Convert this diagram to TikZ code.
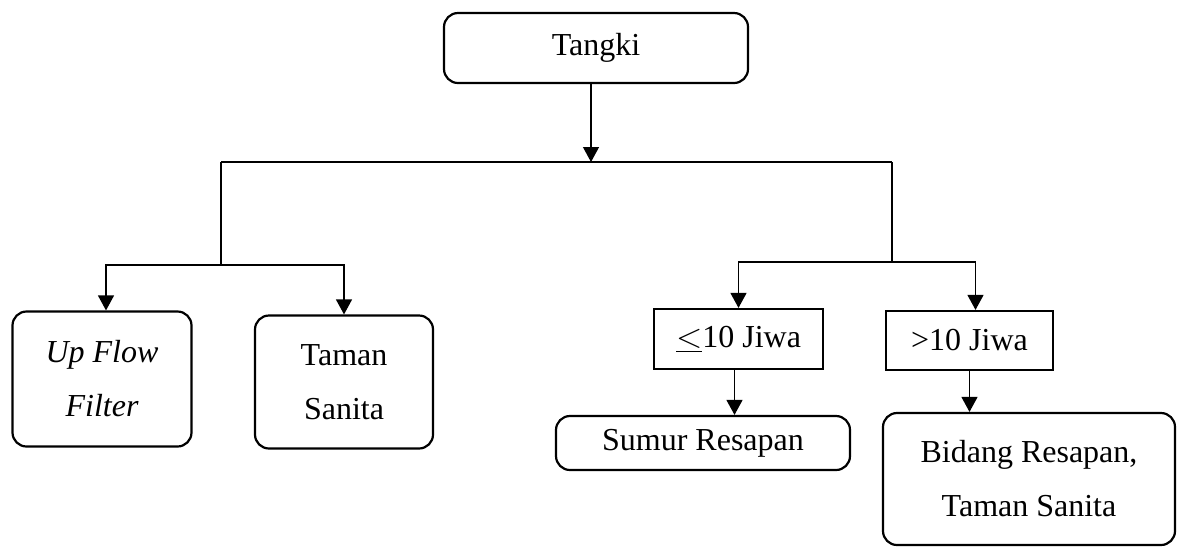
\documentclass[tikz,border=0pt]{standalone}
\usepackage{fontspec}
\setmainfont{Liberation Serif}
\usetikzlibrary{arrows.meta}

\tikzset{
    kotak/.style={draw, line width=1.1pt, rounded corners=7pt, align=center, inner sep=0pt},
    kotaktajam/.style={draw, line width=1.1pt, align=center, inner sep=0pt},
    panah/.style={line width=0.6pt, -{Triangle[width=8pt,length=7.5pt]}},
    garis/.style={line width=0.6pt}
}

\begin{document}
\begin{tikzpicture}[x=0.5pt, y=-0.5pt, font=\fontsize{16}{27}\selectfont]

    \useasboundingbox (0,0) rectangle (1182,548);

    \node[kotak, minimum width=152pt, minimum height=35pt] (tangki) at (596,48) {Tangki};

    \node[kotak, minimum width=89.5pt, minimum height=67.5pt, font=\fontsize{16}{27}\selectfont\itshape] (upflow) at (102,379) {Up Flow\\Filter};
    \node[kotak, minimum width=89pt, minimum height=66.5pt] (taman) at (344,382) {Taman\\Sanita};

    \node[kotaktajam, minimum width=84.5pt, minimum height=30pt] (kecil) at (738.5,339) {$\underline{<}$10 Jiwa};
    \node[kotaktajam, minimum width=83.5pt, minimum height=29.5pt] (besar) at (969.5,340.5) {>10 Jiwa};

    \node[kotak, minimum width=147pt, minimum height=27pt] (sumur) at (703,443) {Sumur Resapan};
    \node[kotak, minimum width=146pt, minimum height=66pt] (bidang) at (1029,479) {Bidang Resapan,\\Taman Sanita};

    \coordinate (cabang) at (591,162);
    \coordinate (cabangkiri) at (221,162);
    \coordinate (cabangkanan) at (892,162);
    \coordinate (kiri) at (221,265);
    \coordinate (kanan) at (892,262);

    \draw[panah] (tangki.south -| cabang) -- (cabang);
    \draw[garis] (cabangkiri) -- (cabangkanan);

    \draw[garis] (cabangkiri) -- (kiri);
    \draw[panah] (kiri) -| ([xshift=2pt]upflow.north);
    \draw[panah] (kiri) -| (taman.north);

    \draw[garis] (cabangkanan) -- (kanan);
    \draw[panah] (kanan) -| (kecil.north);
    \draw[panah] (kanan) -| ([xshift=3pt]besar.north);

    \draw[panah] ([xshift=-2pt]kecil.south) -- ([xshift=-2pt]kecil.south |- sumur.north);
    \draw[panah] (besar.south) -- (besar.south |- bidang.north);

\end{tikzpicture}
\end{document}
